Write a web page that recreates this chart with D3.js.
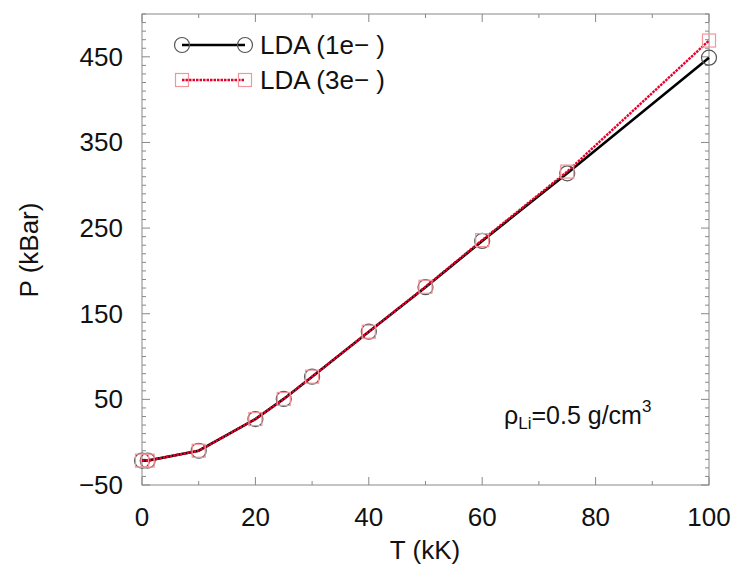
<!DOCTYPE html>
<html><head><meta charset="utf-8">
<script src="https://cdn.jsdelivr.net/npm/d3@7/dist/d3.min.js"></script>
<style>body{margin:0;background:#fff}svg{display:block}text{font-family:"Liberation Sans",Arial,sans-serif}</style>
</head><body><svg id="c" width="740" height="569"></svg>
<script>
const temps = [0, 1, 10, 20, 25, 30, 40, 50, 60, 75, 100];
const p1e = [-21.5, -21.5, -10, 27, 50.5, 76.5, 129, 181, 235, 314, 449];
const p3e = [-21.5, -21.5, -10, 27, 50.5, 76.5, 129, 181.5, 236, 316, 469];
const xTicks = [0, 20, 40, 60, 80, 100];
const yTicks = [-50, 50, 150, 250, 350, 450];
const seriesNames = ["LDA (1e\u2212 )", "LDA (3e\u2212 )"];

const svg = d3.select("#c");
const L = 142, R = 709, T = 14, B = 485;
const x = d3.scaleLinear().domain([0, 100]).range([L, R]);
const y = d3.scaleLinear().domain([-50, 500]).range([B, T]);
const frameCol = "#888";

// frame
svg.append("rect").attr("x", L).attr("y", T).attr("width", R - L).attr("height", B - T)
  .attr("fill", "none").attr("stroke", frameCol).attr("stroke-width", 1);

const g = svg.append("g");
const xMinor = d3.range(0, 101, 10);
const yMinor = d3.range(-50, 501, 10);
xMinor.forEach(v => {
  const len = (v % 20 === 0) ? 8 : 4;
  g.append("line").attr("x1", x(v)).attr("x2", x(v)).attr("y1", B).attr("y2", B - len).attr("stroke", frameCol);
  g.append("line").attr("x1", x(v)).attr("x2", x(v)).attr("y1", T).attr("y2", T + len).attr("stroke", frameCol);
});
yMinor.forEach(v => {
  const len = ((v + 50) % 100 === 0) ? 8 : 4;
  g.append("line").attr("y1", y(v)).attr("y2", y(v)).attr("x1", L).attr("x2", L + len).attr("stroke", frameCol);
  g.append("line").attr("y1", y(v)).attr("y2", y(v)).attr("x1", R).attr("x2", R - len).attr("stroke", frameCol);
});

// tick labels
svg.selectAll(".xt").data(xTicks).enter().append("text")
  .attr("x", d => x(d)).attr("y", 526).attr("text-anchor", "middle")
  .attr("font-size", 26).attr("fill", "#111").text(d => d);
svg.selectAll(".yt").data(yTicks).enter().append("text")
  .attr("x", 123).attr("y", d => y(d) + 9).attr("text-anchor", "end")
  .attr("font-size", 26).attr("fill", "#111").text(d => d === -50 ? "\u221250" : d);

svg.append("text").attr("x", 425).attr("y", 559).attr("text-anchor", "middle")
  .attr("font-size", 26).attr("fill", "#111").text("T (kK)");
svg.append("text").attr("transform", "translate(38,250) rotate(-90)").attr("text-anchor", "middle")
  .attr("font-size", 26).attr("fill", "#111").text("P (kBar)");

// annotation
const ann = svg.append("text").attr("x", 504).attr("y", 424).attr("font-size", 25).attr("fill", "#111");
ann.append("tspan").text("\u03c1");
ann.append("tspan").attr("font-size", 17).attr("dy", 5).text("Li");
ann.append("tspan").attr("dy", -5).text("=0.5 g/cm");
ann.append("tspan").attr("font-size", 17).attr("dy", -12).text("3");

const line = d3.line().x(d => x(d[0])).y(d => y(d[1]));
const d1 = temps.map((t, i) => [t, p1e[i]]);
const d3e = temps.map((t, i) => [t, p3e[i]]);

const blackCol = "#000", redCol = "#e8002c", circCol = "#555", sqCol = "#f4959a";

svg.append("path").datum(d1).attr("d", line).attr("fill", "none").attr("stroke", blackCol).attr("stroke-width", 2.6);
svg.selectAll(".c1").data(d1).enter().append("circle")
  .attr("cx", d => x(d[0])).attr("cy", d => y(d[1])).attr("r", 7.5)
  .attr("fill", "none").attr("stroke", circCol).attr("stroke-width", 1.2);
svg.append("path").datum(d3e).attr("d", line).attr("fill", "none").attr("stroke", redCol).attr("stroke-width", 2.4).attr("stroke-dasharray", "2.5,1");
svg.selectAll(".s3").data(d3e).enter().append("rect")
  .attr("x", d => x(d[0]) - 6.5).attr("y", d => y(d[1]) - 6.5).attr("width", 13).attr("height", 13)
  .attr("fill", "none").attr("stroke", sqCol).attr("stroke-width", 1.2);

// legend
const lx1 = 182, lx2 = 245;
const ly = [45, 80];
svg.append("line").attr("x1", lx1).attr("x2", lx2).attr("y1", ly[0]).attr("y2", ly[0]).attr("stroke", blackCol).attr("stroke-width", 2.6);
[lx1, lx2].forEach(px => svg.append("circle").attr("cx", px).attr("cy", ly[0]).attr("r", 7.5).attr("fill", "none").attr("stroke", circCol).attr("stroke-width", 1.2));
svg.append("line").attr("x1", lx1).attr("x2", lx2).attr("y1", ly[1]).attr("y2", ly[1]).attr("stroke", redCol).attr("stroke-width", 2.4).attr("stroke-dasharray", "2.5,1");
[lx1, lx2].forEach(px => svg.append("rect").attr("x", px - 6.5).attr("y", ly[1] - 6.5).attr("width", 13).attr("height", 13).attr("fill", "none").attr("stroke", sqCol).attr("stroke-width", 1.2));
seriesNames.forEach((s, i) => svg.append("text").attr("x", 260).attr("y", ly[i] + 9).attr("font-size", 26).attr("fill", "#111").text(s));
</script></body></html>
